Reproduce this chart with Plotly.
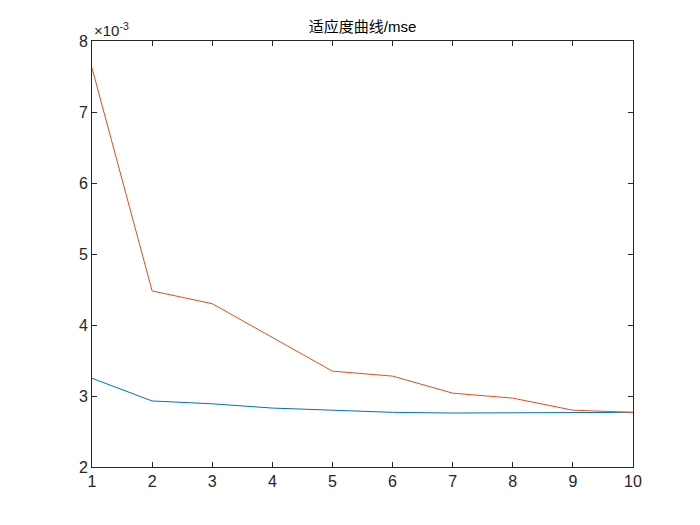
import plotly.graph_objects as go

x = list(range(1, 11))
blue = [3.25, 2.93, 2.89, 2.83, 2.80, 2.77, 2.76, 2.76, 2.76, 2.77]
orange = [7.62, 4.48, 4.30, 3.82, 3.35, 3.28, 3.04, 2.97, 2.80, 2.77]
scale = 1e-3
yticks = [2, 3, 4, 5, 6, 7, 8]

fig = go.Figure()
fig.add_trace(go.Scatter(x=x, y=[v * scale for v in blue], mode="lines",
                         line=dict(color="#0072BD", width=1)))
fig.add_trace(go.Scatter(x=x, y=[v * scale for v in orange], mode="lines",
                         line=dict(color="#D95319", width=1)))
axis = dict(showgrid=False, zeroline=False, ticks="inside", ticklen=5,
            linecolor="#262626", tickcolor="#262626", mirror="ticks",
            showline=True, tickfont=dict(size=16, color="#262626"))
fig.update_xaxes(range=[1, 10], tickvals=x, **axis)
fig.update_yaxes(range=[2e-3, 8e-3], tickvals=[t * scale for t in yticks],
                 ticktext=[str(t) for t in yticks], **axis)
fig.update_layout(
    width=700, height=525, showlegend=False,
    paper_bgcolor="white", plot_bgcolor="white",
    margin=dict(l=84, r=75, t=33, b=66),
    font=dict(family="Liberation Sans, Noto Sans CJK SC", color="#262626"),
    title=dict(text="适应度曲线/mse", x=0.5, xref="paper", y=0.965,
               yanchor="middle", font=dict(size=15, color="#000000")),
    annotations=[dict(text="×10<sup>-3</sup>", x=0, y=1, xref="paper", yref="paper",
                      xanchor="left", yanchor="bottom", showarrow=False,
                      font=dict(size=15, color="#262626"))],
)
fig.write_html("out.html")
